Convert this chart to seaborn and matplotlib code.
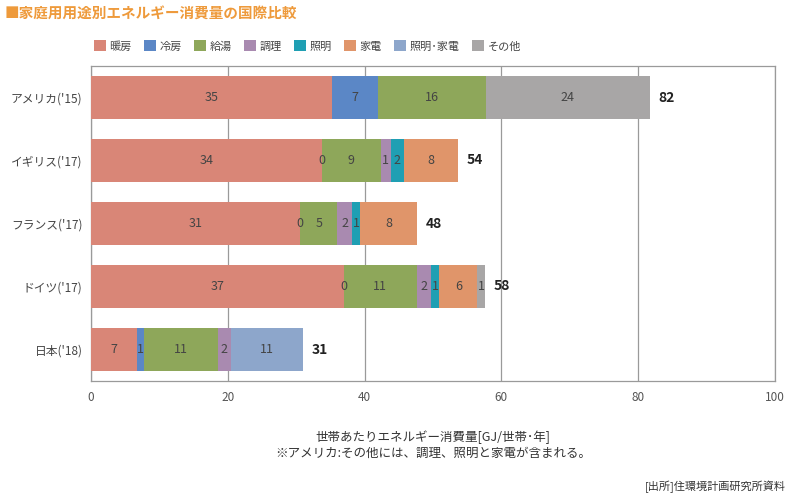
import numpy as np
import pandas as pd
import seaborn as sns
import matplotlib.pyplot as plt
from matplotlib.patches import Patch

# data (GJ / household / year)
countries = ["アメリカ('15)", "イギリス('17)", "フランス('17)", "ドイツ('17)", "日本('18)"]
uses = ["暖房", "冷房", "給湯", "調理", "照明", "家電", "照明･家電", "その他"]
colors = ["#D98677", "#5B87C6", "#8EA75A", "#A98AB0", "#1F9FB3", "#E0956A", "#8DA6CB", "#A8A6A6"]

heating = [35.2, 33.7, 30.6, 37.0, 6.7]
cooling = [6.7, 0.0, 0.0, 0.0, 1.0]
hot_water = [15.8, 8.7, 5.4, 10.6, 10.8]
cooking = [None, 1.4, 2.2, 2.1, 1.9]
lighting = [None, 1.9, 1.1, 1.2, None]
appliances = [None, 7.9, 8.4, 5.6, None]
light_appl = [None, None, None, None, 10.6]
other = [24.0, None, None, 1.1, None]

df = pd.DataFrame(
    [heating, cooling, hot_water, cooking, lighting, appliances, light_appl, other],
    index=uses, columns=countries,
).T.astype(float)

sns.set_theme(style="white")
plt.rcParams["font.family"] = ["Noto Sans CJK JP", "DejaVu Sans"]

fig = plt.figure(figsize=(7.91, 4.96), dpi=100)
ax = fig.add_axes([91 / 791, 1 - 381 / 496, (775 - 91) / 791, (381 - 66) / 496])

cum = df.fillna(0).cumsum(axis=1)
plot_df = cum.reset_index().rename(columns={"index": "country"})

# draw cumulative bars back to front so each segment shows
for use, col in reversed(list(zip(uses, colors))):
    sns.barplot(data=plot_df, x=use, y="country", order=countries, orient="h",
                color=col, saturation=1, width=0.67, errorbar=None,
                linewidth=0, ax=ax, zorder=3)

# segment labels
for i, c in enumerate(countries):
    for use in uses:
        v = df.loc[c, use]
        if np.isnan(v):
            continue
        mid = cum.loc[c, use] - v / 2
        ax.text(mid, i, f"{round(v):d}", ha="center", va="center",
                fontsize=9, color="#444444", zorder=4)
    total = df.loc[c].sum()
    ax.text(total + 1.3, i, f"{round(total):d}", ha="left", va="center",
            fontsize=10, fontweight="bold", color="#222222", zorder=4)

ax.set_xlim(0, 100)
ax.set_ylim(4.5, -0.5)
ax.set_xticks([0, 20, 40, 60, 80, 100])
ax.set_xlabel("")
ax.set_ylabel("")
ax.grid(axis="x", color="#9a9a9a", linewidth=0.9, zorder=0)
ax.set_axisbelow(True)
for s in ax.spines.values():
    s.set_visible(True)
    s.set_color("#9a9a9a")
    s.set_linewidth(0.9)
ax.tick_params(axis="x", labelsize=8.5, colors="#555555", length=0, pad=7)
ax.tick_params(axis="y", labelsize=8.5, colors="#444444", length=0, pad=6)

fig.text(5 / 791, 1 - 13 / 496, "■家庭用用途別エネルギー消費量の国際比較", ha="left", va="center",
         fontsize=10.5, fontweight="bold", color="#EE9A3B")

handles = [Patch(facecolor=col, edgecolor="none", label=u) for u, col in zip(uses, colors)]
fig.legend(handles=handles, loc="center left", bbox_to_anchor=(84 / 791, 1 - 46 / 496),
           ncol=8, frameon=False, fontsize=8, handlelength=1.1, handleheight=1.1,
           handletextpad=0.3, columnspacing=1.1, labelcolor="#444444")

fig.text(433 / 791, 1 - 437 / 496, "世帯あたりエネルギー消費量[GJ/世帯･年]", ha="center", va="center",
         fontsize=9, color="#333333")
fig.text(433 / 791, 1 - 453 / 496, "※アメリカ:その他には、調理、照明と家電が含まれる。", ha="center", va="center",
         fontsize=9, color="#333333")
fig.text(786 / 791, 1 - 487 / 496, "[出所]住環境計画研究所資料", ha="right", va="center",
         fontsize=8, color="#333333")

fig.savefig("out.png", dpi=100)
